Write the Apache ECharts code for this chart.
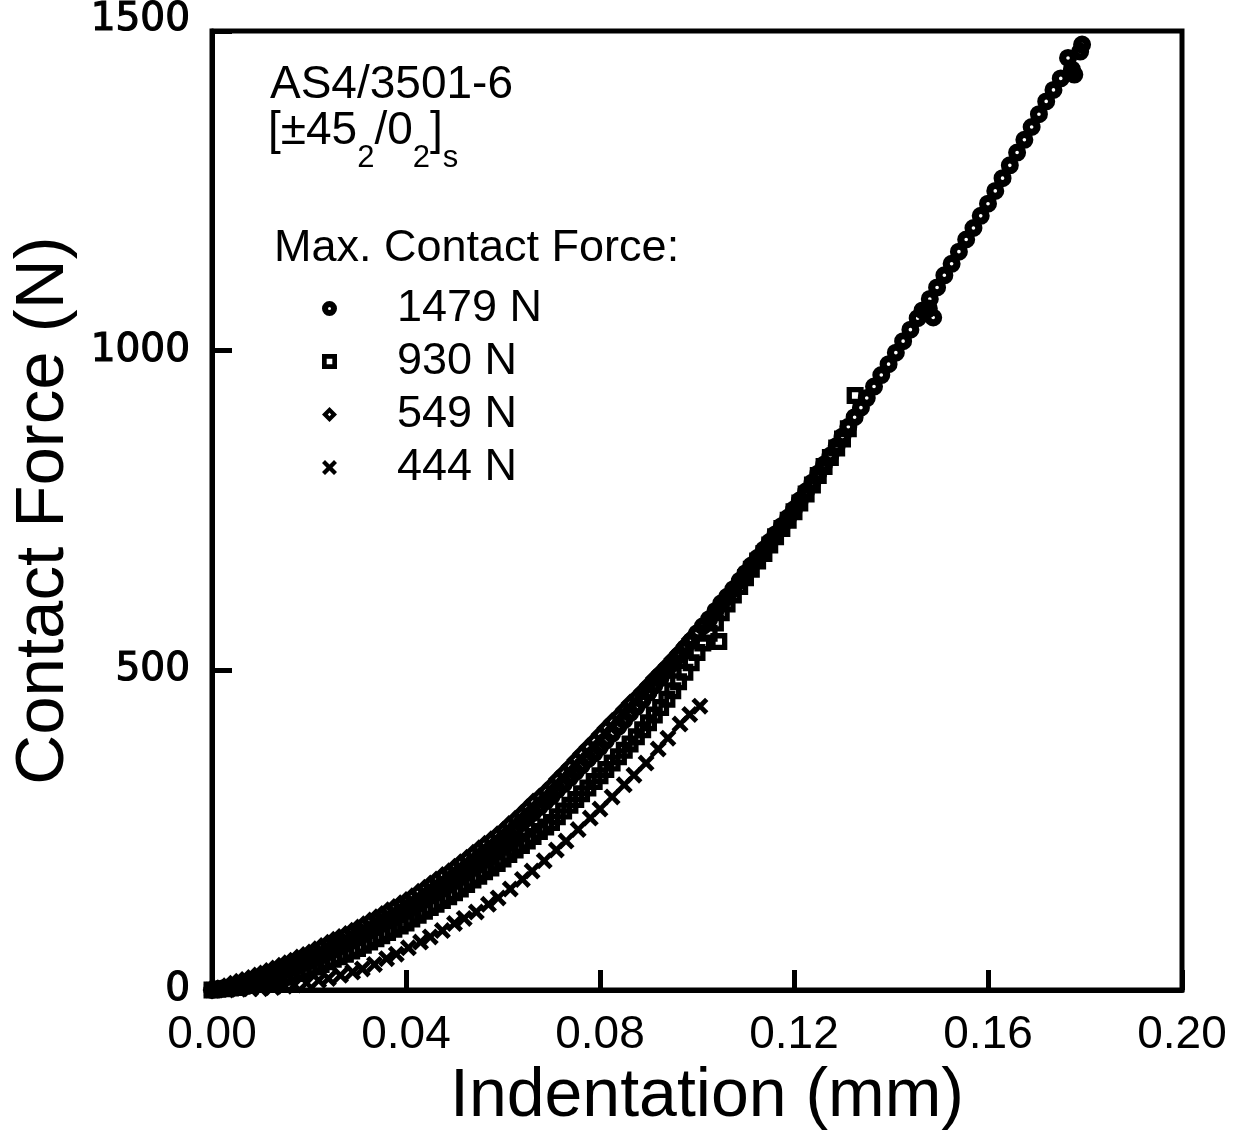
<!DOCTYPE html>
<html>
<head>
<meta charset="utf-8">
<script src="https://cdn.jsdelivr.net/npm/echarts@6/dist/echarts.min.js"></script>
<style>
  html, body { margin: 0; padding: 0; background: #fff; }
  #chart { width: 1243px; height: 1136px; }
</style>
</head>
<body>
<div id="chart"></div>
<script>
// Loading curves: indentation (mm) vs. contact force (N), one test per maximum force.
const indent1479 = [0.0000, 0.0012, 0.0025, 0.0038, 0.0050, 0.0062, 0.0075, 0.0088, 0.0100, 0.0112, 0.0125, 0.0138, 0.0150, 0.0162, 0.0175, 0.0188, 0.0200, 0.0212, 0.0225, 0.0238, 0.0250, 0.0262, 0.0275, 0.0288, 0.0300, 0.0312, 0.0325, 0.0338, 0.0350, 0.0362, 0.0375, 0.0388, 0.0400, 0.0412, 0.0425, 0.0438, 0.0450, 0.0462, 0.0475, 0.0488, 0.0500, 0.0512, 0.0525, 0.0538, 0.0550, 0.0562, 0.0575, 0.0588, 0.0600, 0.0612, 0.0625, 0.0638, 0.0650, 0.0662, 0.0675, 0.0688, 0.0700, 0.0712, 0.0725, 0.0738, 0.0750, 0.0762, 0.0775, 0.0788, 0.0800, 0.0812, 0.0825, 0.0838, 0.0850, 0.0862, 0.0875, 0.0888, 0.0900, 0.0912, 0.0925, 0.0938, 0.0950, 0.0962, 0.0975, 0.0988, 0.1000, 0.1012, 0.1025, 0.1038, 0.1050, 0.1062, 0.1075, 0.1088, 0.1100, 0.1112, 0.1125, 0.1138, 0.1150, 0.1162, 0.1175, 0.1188, 0.1200, 0.1212, 0.1225, 0.1238, 0.1250, 0.1262, 0.1275, 0.1288, 0.1300, 0.1312, 0.1325, 0.1338, 0.1350, 0.1365, 0.1380, 0.1395, 0.1410, 0.1425, 0.1440, 0.1455, 0.1465, 0.1478, 0.1487, 0.1480, 0.1495, 0.1510, 0.1525, 0.1540, 0.1555, 0.1570, 0.1585, 0.1600, 0.1615, 0.1630, 0.1645, 0.1660, 0.1675, 0.1690, 0.1705, 0.1720, 0.1735, 0.1750, 0.1765, 0.1773, 0.1778, 0.1790, 0.1794];
const force1479  = [0, 1, 3, 5, 7, 9, 12, 14, 17, 20, 24, 27, 31, 34, 38, 42, 45, 50, 54, 59, 63, 68, 72, 77, 82, 87, 93, 98, 104, 109, 114, 120, 125, 131, 138, 144, 151, 157, 164, 170, 177, 184, 191, 199, 206, 213, 220, 228, 235, 243, 252, 261, 269, 277, 286, 295, 303, 313, 322, 332, 341, 351, 361, 370, 380, 390, 401, 412, 422, 433, 443, 454, 465, 476, 488, 500, 511, 523, 535, 546, 558, 569, 580, 593, 605, 615, 627, 640, 652, 664, 676, 689, 701, 713, 726, 739, 752, 766, 780, 794, 808, 822, 836, 851, 866, 881, 896, 911, 926, 944, 962, 979, 997, 1015, 1033, 1051, 1063, 1066, 1052, 1081, 1099, 1118, 1136, 1155, 1174, 1192, 1211, 1230, 1250, 1270, 1290, 1310, 1330, 1350, 1370, 1390, 1408, 1426, 1458, 1440, 1432, 1468, 1479];

const indent930 = [0.0000, 0.0012, 0.0025, 0.0038, 0.0050, 0.0062, 0.0075, 0.0088, 0.0100, 0.0112, 0.0125, 0.0138, 0.0150, 0.0162, 0.0175, 0.0188, 0.0200, 0.0212, 0.0225, 0.0238, 0.0250, 0.0262, 0.0275, 0.0288, 0.0300, 0.0312, 0.0325, 0.0338, 0.0350, 0.0362, 0.0375, 0.0388, 0.0400, 0.0412, 0.0425, 0.0438, 0.0450, 0.0462, 0.0475, 0.0488, 0.0500, 0.0512, 0.0525, 0.0538, 0.0550, 0.0562, 0.0575, 0.0588, 0.0600, 0.0612, 0.0625, 0.0638, 0.0650, 0.0662, 0.0675, 0.0688, 0.0700, 0.0712, 0.0725, 0.0738, 0.0750, 0.0762, 0.0775, 0.0788, 0.0800, 0.0812, 0.0825, 0.0838, 0.0850, 0.0862, 0.0875, 0.0888, 0.0900, 0.0912, 0.0925, 0.0938, 0.0950, 0.0962, 0.0975, 0.0988, 0.1000, 0.1012, 0.1025, 0.1038, 0.1050, 0.1045, 0.1062, 0.1075, 0.1088, 0.1100, 0.1112, 0.1125, 0.1138, 0.1150, 0.1162, 0.1175, 0.1188, 0.1200, 0.1212, 0.1225, 0.1238, 0.1250, 0.1262, 0.1275, 0.1288, 0.1300, 0.1312, 0.1326];
const force930  = [0, 1, 2, 3, 4, 6, 7, 9, 10, 13, 15, 18, 20, 23, 26, 29, 32, 36, 40, 44, 48, 52, 56, 61, 65, 70, 75, 80, 85, 90, 95, 100, 105, 111, 117, 123, 129, 134, 140, 146, 152, 158, 165, 172, 178, 185, 191, 198, 205, 212, 219, 226, 233, 240, 248, 255, 262, 271, 280, 289, 298, 307, 316, 326, 335, 345, 355, 365, 375, 385, 396, 407, 418, 430, 442, 455, 468, 482, 497, 512, 528, 543, 558, 574, 590, 545, 604, 618, 631, 645, 658, 671, 683, 696, 709, 722, 735, 748, 762, 776, 790, 805, 819, 833, 848, 862, 878, 930];

const indent549 = [0.0000, 0.0012, 0.0025, 0.0038, 0.0050, 0.0062, 0.0075, 0.0088, 0.0100, 0.0112, 0.0125, 0.0138, 0.0150, 0.0162, 0.0175, 0.0188, 0.0200, 0.0212, 0.0225, 0.0238, 0.0250, 0.0262, 0.0275, 0.0288, 0.0300, 0.0312, 0.0325, 0.0338, 0.0350, 0.0362, 0.0375, 0.0388, 0.0400, 0.0412, 0.0425, 0.0438, 0.0450, 0.0462, 0.0475, 0.0488, 0.0500, 0.0512, 0.0525, 0.0538, 0.0550, 0.0562, 0.0575, 0.0588, 0.0600, 0.0612, 0.0625, 0.0638, 0.0650, 0.0662, 0.0675, 0.0688, 0.0700, 0.0712, 0.0725, 0.0738, 0.0750, 0.0762, 0.0775, 0.0788, 0.0800, 0.0812, 0.0825, 0.0838, 0.0850, 0.0862, 0.0875, 0.0888, 0.0900, 0.0912, 0.0925, 0.0938, 0.0950, 0.0962, 0.0975, 0.0986];
const force549  = [0, 2, 5, 9, 12, 15, 18, 22, 25, 29, 33, 37, 41, 45, 50, 54, 58, 63, 68, 73, 78, 82, 87, 92, 97, 102, 108, 113, 118, 124, 129, 135, 140, 146, 153, 159, 166, 172, 179, 185, 192, 199, 206, 214, 221, 228, 235, 243, 250, 259, 267, 276, 285, 294, 302, 311, 320, 330, 340, 350, 360, 370, 380, 390, 400, 410, 420, 429, 439, 449, 458, 468, 478, 488, 498, 508, 518, 528, 539, 549];

const indent444 = [0.000, 0.003, 0.0055, 0.008, 0.010, 0.0125, 0.015, 0.017, 0.0195, 0.022, 0.024, 0.0265, 0.029, 0.031, 0.0335, 0.036, 0.038, 0.0405, 0.043, 0.045, 0.0475, 0.050, 0.052, 0.0545, 0.057, 0.059, 0.0615, 0.064, 0.066, 0.0685, 0.071, 0.073, 0.0755, 0.078, 0.080, 0.0825, 0.085, 0.087, 0.0895, 0.092, 0.094, 0.0965, 0.0985, 0.1006];
const force444  = [0, 0, 1, 2, 2, 4, 6, 8, 11, 15, 18, 23, 28, 33, 40, 49, 56, 66, 75, 83, 93, 104, 112, 122, 134, 144, 158, 173, 186, 202, 219, 233, 251, 269, 283, 302, 321, 336, 355, 377, 394, 416, 431, 444];

const seriesNames = ['1479 N', '930 N', '549 N', '444 N'];
const xTicks = { min: 0, max: 0.20, step: 0.04 };
const yTicks = { min: 0, max: 1500, step: 500 };

const FONT = "'Liberation Sans', Arial, Helvetica, sans-serif";
const NUM_FONT = "'DejaVu Sans', sans-serif";
const INK = '#000';

// Heavy open markers, drawn as filled outlines with a punched-out centre.
const RING = 'path://M8,0 A8,8 0 1,1 8,16 A8,8 0 1,1 8,0 Z M8,6.4 A1.6,1.6 0 1,0 8,9.6 A1.6,1.6 0 1,0 8,6.4 Z';
const BOX = 'path://M0,0 L16,0 L16,16 L0,16 Z M5,5 L5,11 L11,11 L11,5 Z';
const RHOMB = 'path://M8,0 L16,8 L8,16 L0,8 Z M8,6.2 L6.2,8 L8,9.8 L9.8,8 Z';
const CROSS = 'path://M2,0 L5,3 L8,0 L10,2 L7,5 L10,8 L8,10 L5,7 L2,10 L0,8 L3,5 L0,2 Z';

const pairs = (xs, ys) => xs.map((x, i) => [x, ys[i]]);

const chart = echarts.init(document.getElementById('chart'), null, { renderer: 'canvas' });

const markStyle = { color: INK, opacity: 1, borderWidth: 0 };

chart.setOption({
  animation: false,
  backgroundColor: '#fff',
  grid: {
    left: 212, right: 61, top: 31, bottom: 146,
    show: true, borderColor: INK, borderWidth: 5, backgroundColor: 'transparent'
  },
  xAxis: {
    type: 'value',
    min: xTicks.min, max: xTicks.max, interval: xTicks.step,
    name: 'Indentation (mm)',
    nameLocation: 'middle',
    nameGap: 60,
    nameTextStyle: { fontFamily: FONT, fontSize: 68, color: INK, padding: [0, 0, 0, 20] },
    axisLine: { lineStyle: { color: INK, width: 5 } },
    axisTick: { inside: true, length: 20, lineStyle: { color: INK, width: 5 } },
    axisLabel: {
      margin: 22, fontFamily: FONT, fontSize: 46, color: INK,
      showMinLabel: true, showMaxLabel: true,
      formatter: v => v.toFixed(2)
    },
    splitLine: { show: false }
  },
  yAxis: {
    type: 'value',
    min: yTicks.min, max: yTicks.max, interval: yTicks.step,
    name: 'Contact Force (N)',
    nameLocation: 'middle',
    nameGap: 134,
    nameRotate: 90,
    nameTextStyle: { fontFamily: FONT, fontSize: 69, color: INK },
    axisLine: { lineStyle: { color: INK, width: 5 } },
    axisTick: { inside: true, length: 20, lineStyle: { color: INK, width: 5 } },
    axisLabel: {
      margin: 22, fontFamily: NUM_FONT, fontSize: 39, color: INK,
      textBorderColor: INK, textBorderWidth: 1.2,
      formatter: v => (v === yTicks.max ? '{top|' + v + '}' : String(v)),
      rich: { top: { fontFamily: NUM_FONT, fontSize: 39, color: INK, textBorderColor: INK, textBorderWidth: 1.2, padding: [0, 0, 22, 0] } }
    },
    splitLine: { show: false }
  },
  legend: {
    data: seriesNames,
    orient: 'vertical',
    left: 317, top: 281,
    itemWidth: 15, itemHeight: 15,
    itemGap: 8,
    itemStyle: { opacity: 1 },
    textStyle: { fontFamily: FONT, fontSize: 45, color: INK, lineHeight: 45, padding: [0, 0, 0, 55] },
    selectedMode: false
  },
  graphic: [
    {
      type: 'text', x: 270, y: 85,
      style: { text: 'AS4/3501-6', font: '46px ' + FONT, fill: INK, align: 'left', verticalAlign: 'middle' }
    },
    {
      type: 'text', x: 268, y: 108,
      style: {
        text: '{m|[±45}{b|2}{m|/0}{b|2}{m|]}{b|s}',
        align: 'left', verticalAlign: 'top',
        rich: {
          m: { fontFamily: FONT, fontSize: 46, lineHeight: 46, color: INK, verticalAlign: 'top' },
          b: { fontFamily: FONT, fontSize: 31, lineHeight: 31, color: INK, verticalAlign: 'top', padding: [35, 0, 0, 0] }
        }
      }
    },
    {
      type: 'text', x: 274, y: 249,
      style: { text: 'Max. Contact Force:', font: '45px ' + FONT, fill: INK, align: 'left', verticalAlign: 'middle' }
    }
  ],
  series: [
    {
      name: seriesNames[0], type: 'scatter', data: pairs(indent1479, force1479),
      symbol: RING, symbolSize: 18, itemStyle: markStyle
    },
    {
      name: seriesNames[1], type: 'scatter', data: pairs(indent930, force930),
      symbol: BOX, symbolSize: 17, itemStyle: markStyle
    },
    {
      name: seriesNames[2], type: 'scatter', data: pairs(indent549, force549),
      symbol: RHOMB, symbolSize: 19, itemStyle: markStyle
    },
    {
      name: seriesNames[3], type: 'scatter', data: pairs(indent444, force444),
      symbol: CROSS, symbolSize: 17, itemStyle: markStyle
    }
  ]
});
</script>
</body>
</html>
